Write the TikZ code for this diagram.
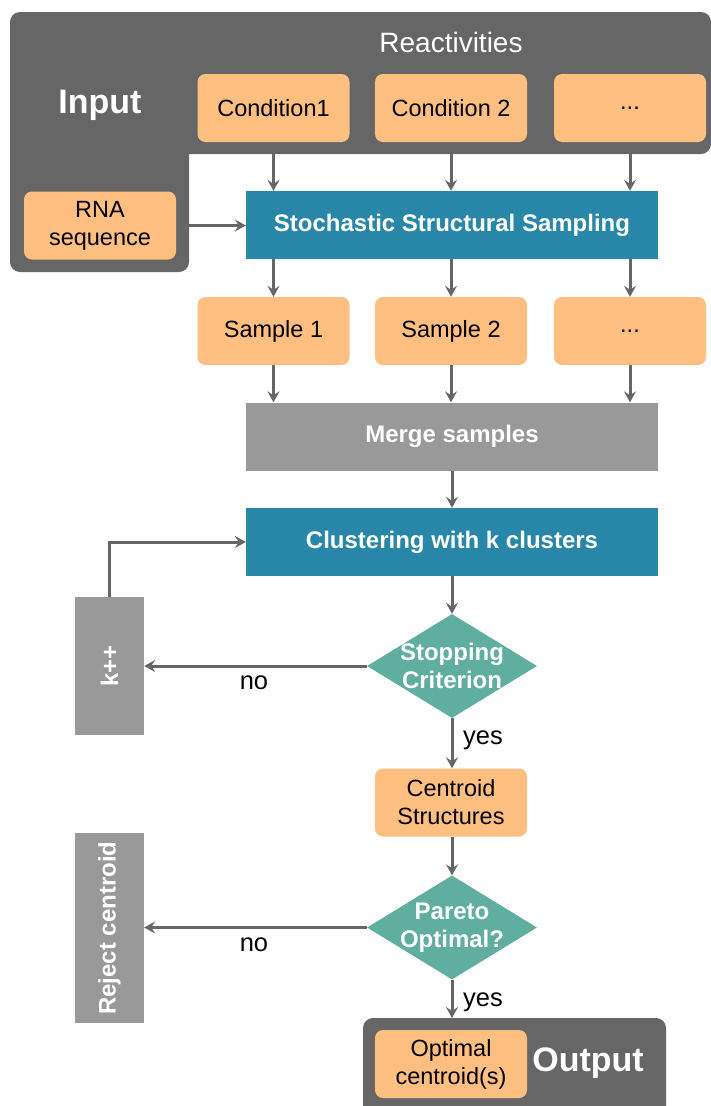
\documentclass[tikz,border=0pt]{standalone}
\usepackage{fontspec}
\setmainfont{Liberation Sans}
\usetikzlibrary{shapes.geometric,arrows.meta}
\definecolor{darkgr}{HTML}{666666}
\definecolor{orng}{HTML}{FFBF80}
\definecolor{tealb}{HTML}{2887A8}
\definecolor{greent}{HTML}{5FAE9F}
\definecolor{midgr}{HTML}{999999}
\tikzset{
  obox/.style={fill=orng, rounded corners=8pt, minimum width=152pt, minimum height=68pt, inner sep=0pt, align=center, font=\fontsize{23.5}{28}\selectfont, text=black},
  wbox/.style={fill=tealb, minimum width=412pt, minimum height=68pt, inner sep=0pt, font=\bfseries\fontsize{24}{28}\selectfont, text=white},
  gbox/.style={fill=midgr, inner sep=0pt},
  dia/.style={diamond, fill=greent, minimum width=170pt, minimum height=104pt, inner sep=0pt},
  wlab/.style={font=\bfseries\fontsize{24}{28}\selectfont, text=white, align=center},
  blab/.style={font=\fontsize{25.5}{29}\selectfont, text=black},
  arr/.style={draw=darkgr, line width=3pt, -{Stealth[length=11pt,width=12pt,inset=4pt]}},
}
\begin{document}
\begin{tikzpicture}[x=1pt,y=-1pt]
\useasboundingbox (0,0) rectangle (711,1106);
% input panel
\fill[darkgr, rounded corners=10pt] (10,12) rectangle (711,154);
\fill[darkgr, rounded corners=10pt] (10,100) rectangle (189,272);
\node[font=\fontsize{28}{32}\selectfont, text=white] (react) at (451,42) {Reactivities};
\node[font=\bfseries\fontsize{34}{38}\selectfont, text=white] (input) at (100,105) {Input};
\node[obox] (c1) at (273.5,108) {Condition1};
\node[obox] (c2) at (451,108) {Condition 2};
\node[obox] (c3) at (630,108) {...};
\node[obox] (rna) at (100,225.5) {RNA\\sequence};
% output panel
\fill[darkgr, rounded corners=10pt] (363,1018) rectangle (666,1120);
\coordinate (outtop) at (451,1018);
\node[font=\bfseries\fontsize{34}{38}\selectfont, text=white] (output) at (588,1063) {Output};
\node[obox] (opt) at (451,1064) {Optimal\\centroid(s)};
% main flow
\node[wbox] (sss) at (452,225) {Stochastic Structural Sampling};
\node[obox] (s1) at (273.5,331) {Sample 1};
\node[obox] (s2) at (451,331) {Sample 2};
\node[obox] (s3) at (630,331) {...};
\node[wbox, fill=midgr] (merge) at (452,436.5) {Merge samples};
\node[wbox] (clus) at (452,542) {Clustering with k clusters};
\node[dia, label={[wlab]center:Stopping\\Criterion}] (stop) at (452,666) {};
\node[gbox, minimum width=69pt, minimum height=138pt, label={[wlab, rotate=90]center:k++}] (kpp) at (109.5,666) {};
\node[obox] (cent) at (451,802.5) {Centroid\\Structures};
\node[dia, label={[wlab]center:Pareto\\Optimal?}] (pareto) at (452,927.5) {};
\node[gbox, minimum width=69pt, minimum height=190pt, label={[wlab, rotate=90]center:Reject centroid}] (rej) at (109.5,928) {};
% arrows
\draw[arr] (c1.south |- 0,154) -- (c1.south |- sss.north);
\draw[arr] (c2.south |- 0,154) -- (c2.south |- sss.north);
\draw[arr] (c3.south |- 0,154) -- (c3.south |- sss.north);
\draw[arr] (rna.east -| 189,0) -- (rna.east -| sss.west);
\draw[arr] (c1.south |- sss.south) -- (s1.north);
\draw[arr] (c2.south |- sss.south) -- (s2.north);
\draw[arr] (c3.south |- sss.south) -- (s3.north);
\draw[arr] (s1.south) -- (s1.south |- merge.north);
\draw[arr] (s2.south) -- (s2.south |- merge.north);
\draw[arr] (s3.south) -- (s3.south |- merge.north);
\draw[arr] (merge.south) -- (clus.north);
\draw[arr] (clus.south) -- (stop.north);
\draw[arr] (stop.west) -- (kpp.east |- stop.west);
\draw[arr] (kpp.north) |- (clus.west);
\draw[arr] (stop.south) -- (cent.north -| stop.south);
\draw[arr] (cent.south -| pareto.north) -- (pareto.north);
\draw[arr] (pareto.west) -- (rej.east |- pareto.west);
\draw[arr] (pareto.south) -- (outtop -| pareto.south);
% labels
\node[blab] (no1) at (254,683) {no};
\node[blab] (yes1) at (483,740) {yes};
\node[blab] (no2) at (254,945) {no};
\node[blab] (yes2) at (483,1002) {yes};
\end{tikzpicture}
\end{document}
